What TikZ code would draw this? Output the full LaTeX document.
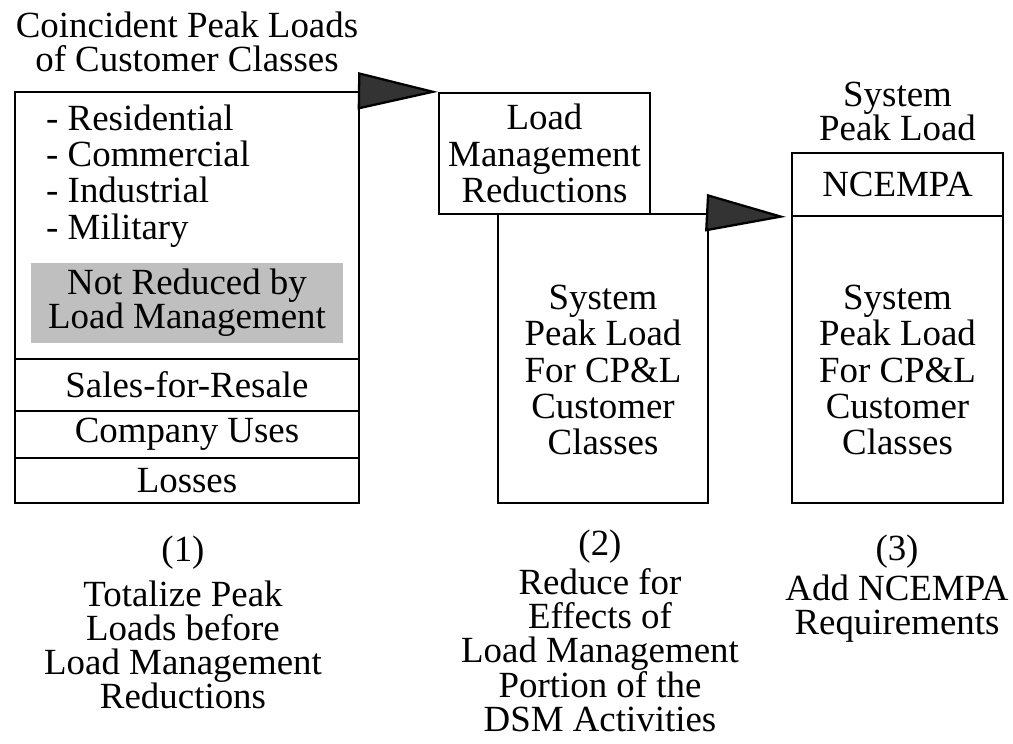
\documentclass[tikz,border=0pt]{standalone}
\usepackage{fontspec}
\setmainfont{Liberation Serif}
\usetikzlibrary{arrows.meta}

\begin{document}
\begin{tikzpicture}[
  x=0.02cm, y=-0.02cm,
  font=\fontsize{21pt}{19.3pt}\selectfont,
  box/.style={draw, line width=1.3pt, inner sep=0pt, align=center},
  boxtext/.style={align=center, font=\fontsize{21pt}{20.6pt}\selectfont},
  shadebox/.style={fill=black!25, inner sep=0pt, align=center,
                   minimum width=6.24cm, minimum height=1.6cm},
  caption/.style={align=center, inner sep=0pt},
  flow/.style={line width=1.3pt, -{Triangle[length=1.6cm, width=0.74cm, fill=black!80]}}
]
  \useasboundingbox (0,0) rectangle (1013,743);

  % (1) customer classes
  \node[align=center] (title1) at (187,42) {Coincident Peak Loads\\of Customer Classes};
  \node[box, minimum width=6.88cm, minimum height=5.34cm] (cust) at (187,225.5) {};
  \node[boxtext, align=left, anchor=west] (classes) at (40,176)
      {- Residential\\- Commercial\\- Industrial\\- Military};
  \node[shadebox] (notred) at (187,303) {Not Reduced by\\Load Management};
  \node[box, minimum width=6.88cm, minimum height=1.04cm] (sales) at (187,385) {Sales-for-Resale};
  \node[box, minimum width=6.88cm, minimum height=0.94cm] (company) at (187,434.5) {Company Uses};
  \node[box, minimum width=6.88cm, minimum height=0.90cm] (losses) at (187,480.5) {Losses};

  % (2) load management
  \node[box, boxtext, minimum width=4.22cm, minimum height=2.42cm] (lmr) at (544.5,153.5)
      {Load\\Management\\Reductions};
  \node[box, minimum width=4.2cm, minimum height=5.78cm] (sys2) at (603,358.5) {};
  \node[boxtext] (sys2txt) at (603,370) {System\\Peak Load\\For CP\&L\\Customer\\Classes};

  % (3) NCEMPA
  \node[align=center] (syslbl) at (897.5,111.5) {System\\Peak Load};
  \node[box, minimum width=4.22cm, minimum height=1.26cm] (ncempa) at (897.5,184.5) {NCEMPA};
  \node[box, minimum width=4.22cm, minimum height=5.74cm] (sys3) at (897.5,359.5) {};
  \node[boxtext] (sys3txt) at (897.5,370) {System\\Peak Load\\For CP\&L\\Customer\\Classes};

  \draw[flow] (cust.north east) -- (lmr.north west);
  \draw[flow, shorten >=0.1cm] (sys2.north east) -- (ncempa.south west);

  % step captions
  \node[caption] (step1) at (183,622.5)
      {(1)\\[0.23cm]Totalize Peak\\Loads before\\Load Management\\Reductions};
  \node[caption] (step2) at (600,631)
      {(2)\\[0.1cm]Reduce for\\Effects of\\Load Management\\Portion of the\\DSM Activities};
  \node[caption] (step3) at (897,589)
      {(3)\\[0.12cm]Add NCEMPA\\Requirements};
\end{tikzpicture}
\end{document}
